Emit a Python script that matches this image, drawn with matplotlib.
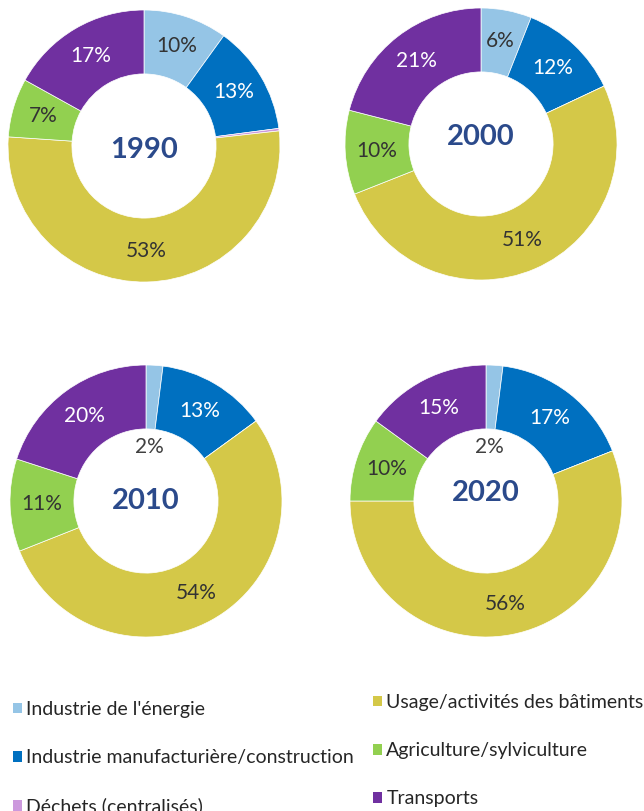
import matplotlib.pyplot as plt
import numpy as np
from matplotlib.patches import Patch

plt.rcParams['font.family'] = ['Lato', 'DejaVu Sans']

sectors = ["Industrie de l'énergie",
           "Industrie manufacturière/construction",
           "Déchets (centralisés)",
           "Usage/activités des bâtiments",
           "Agriculture/sylviculture",
           "Transports"]
colors = ['#95C5E6', '#0070C0', '#CC99DD', '#D4C848', '#92D050', '#7030A0']
text_colors = ['#333333', 'white', '#333333', '#333333', '#333333', 'white']

years = ['1990', '2000', '2010', '2020']
shares = {
    '1990': [10, 13, 0.3, 53, 7, 17],
    '2000': [6, 12, 0, 51, 10, 21],
    '2010': [2, 13, 0, 54, 11, 20],
    '2020': [2, 17, 0, 56, 10, 15],
}

W, H = 644, 811
R = 136  # outer radius in px
centers = {'1990': (144, 146), '2000': (481, 144),
           '2010': (146, 501), '2020': (486, 501)}
year_dy = {'1990': -0.03, '2000': 0.05, '2010': 0.0, '2020': 0.06}

fig = plt.figure(figsize=(W / 100, H / 100), dpi=100)

for yr in years:
    cx, cy = centers[yr]
    ax = fig.add_axes([(cx - R) / W, 1 - (cy + R) / H, 2 * R / W, 2 * R / H])
    vals = shares[yr]
    wedges, _ = ax.pie(vals, colors=colors, startangle=90, counterclock=False,
                       radius=1, wedgeprops=dict(width=0.47, edgecolor='white', linewidth=0.5))
    for v, w, tc in zip(vals, wedges, text_colors):
        if v < 1:
            continue
        mid = np.deg2rad((w.theta1 + w.theta2) / 2)
        # small slices get their label inside the hole
        r = 0.40 if v < 4 else 0.77
        ax.text(r * np.cos(mid), r * np.sin(mid), f'{v:g}%',
                ha='center', va='center', fontsize=15,
                color=tc if v >= 4 else '#404040')
    ax.text(0, year_dy[yr], yr, ha='center', va='center', fontsize=21,
            fontweight='bold', color='#2B4A8B')
    ax.set_xlim(-1, 1)
    ax.set_ylim(-1, 1)
    ax.set_aspect('equal')
    ax.axis('off')

handles = [Patch(facecolor=c, edgecolor='none') for c in colors]

common = dict(frameon=False, fontsize=14, handlelength=0.47, handleheight=0.47,
              handletextpad=0.22, labelspacing=1.6, borderpad=0, borderaxespad=0,
              labelcolor='#262626')
fig.legend(handles[:3], sectors[:3], loc='upper left',
           bbox_to_anchor=(13 / W, 1 - 701 / H), **common)
fig.legend(handles[3:], sectors[3:], loc='upper left',
           bbox_to_anchor=(373 / W, 1 - 694 / H), **common)

fig.savefig('out.png', dpi=100, facecolor='white')
